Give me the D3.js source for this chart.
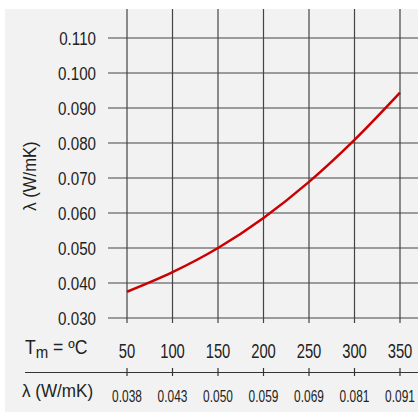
<!DOCTYPE html>
<html>
<head>
<meta charset="utf-8">
<script src="https://cdn.jsdelivr.net/npm/d3@7"></script>
<style>
  body { margin: 0; background: #fff; }
  text { font-family: "Liberation Sans", Arial, sans-serif; fill: #222; }
</style>
</head>
<body>
<script>
const temps = [50, 100, 150, 200, 250, 300, 350];
const lambdaCurve = [0.0375, 0.0431, 0.0500, 0.0586, 0.0689, 0.0809, 0.0944];
const lambdaTable = ['0.038', '0.043', '0.050', '0.059', '0.069', '0.081', '0.091'];
const yTicks = [0.030, 0.040, 0.050, 0.060, 0.070, 0.080, 0.090, 0.100, 0.110];

const width = 418;
const height = 412;

const svg = d3.select('body')
  .append('svg')
  .attr('width', width)
  .attr('height', height);

// panel background
svg.append('rect')
  .attr('x', 5)
  .attr('y', 9)
  .attr('width', width - 5)
  .attr('height', height - 9)
  .attr('fill', '#f2f2f2');

const x = d3.scaleLinear().domain([50, 350]).range([127, 400]);
const y = d3.scaleLinear().domain([0.03, 0.11]).range([318, 38]);

// the original uses a narrow face, so squeeze the text horizontally
const at = (px, py, sx, extra = '') => `translate(${px},${py}) ${extra} scale(${sx},1)`;

// horizontal grid
svg.selectAll('line.h')
  .data(yTicks)
  .enter()
  .append('line')
  .attr('class', 'h')
  .attr('x1', 108)
  .attr('x2', width)
  .attr('y1', d => y(d))
  .attr('y2', d => y(d))
  .attr('stroke', '#444')
  .attr('stroke-width', 1.2);

// vertical grid
svg.selectAll('line.v')
  .data(temps)
  .enter()
  .append('line')
  .attr('class', 'v')
  .attr('x1', d => x(d))
  .attr('x2', d => x(d))
  .attr('y1', 9)
  .attr('y2', 323)
  .attr('stroke', '#444')
  .attr('stroke-width', 1.2);

// y tick labels
svg.selectAll('text.ytick')
  .data(yTicks)
  .enter()
  .append('text')
  .attr('class', 'ytick')
  .attr('transform', d => at(96, y(d), 0.82))
  .attr('dy', '0.36em')
  .attr('text-anchor', 'end')
  .style('font-size', '18.5px')
  .text(d => d.toFixed(3));

// y title
svg.append('text')
  .attr('transform', at(36, 176, 0.9, 'rotate(-90)'))
  .attr('text-anchor', 'middle')
  .style('font-size', '18.5px')
  .text('λ (W/mK)');

// temperature row
const tm = svg.append('text')
  .attr('transform', at(25, 354, 0.88))
  .style('font-size', '20px');
tm.append('tspan').text('T');
tm.append('tspan').attr('dy', 4).style('font-size', '17px').text('m');
tm.append('tspan').attr('dy', -4).text(' = ºC');

svg.selectAll('text.xtick')
  .data(temps)
  .enter()
  .append('text')
  .attr('class', 'xtick')
  .attr('transform', d => at(x(d), 357.5, 0.74))
  .attr('text-anchor', 'middle')
  .style('font-size', '20px')
  .text(d => d);

// separator line with ticks
svg.append('line')
  .attr('x1', 25)
  .attr('x2', width)
  .attr('y1', 372.5)
  .attr('y2', 372.5)
  .attr('stroke', '#333')
  .attr('stroke-width', 1.2);

svg.selectAll('line.sep')
  .data(temps)
  .enter()
  .append('line')
  .attr('class', 'sep')
  .attr('x1', d => x(d))
  .attr('x2', d => x(d))
  .attr('y1', 368)
  .attr('y2', 376)
  .attr('stroke', '#333')
  .attr('stroke-width', 1.2);

// lambda row
svg.append('text')
  .attr('transform', at(22, 397, 0.9))
  .style('font-size', '19px')
  .text('λ (W/mK)');

svg.selectAll('text.lam')
  .data(temps)
  .enter()
  .append('text')
  .attr('class', 'lam')
  .attr('transform', d => at(x(d), 401.5, 0.7))
  .attr('text-anchor', 'middle')
  .style('font-size', '17px')
  .text((d, i) => lambdaTable[i]);

// curve
const line = d3.line()
  .x(d => x(d[0]))
  .y(d => y(d[1]))
  .curve(d3.curveMonotoneX);

svg.append('path')
  .datum(temps.map((t, i) => [t, lambdaCurve[i]]))
  .attr('d', line)
  .attr('fill', 'none')
  .attr('stroke', '#cc0000')
  .attr('stroke-width', 2.5);
</script>
</body>
</html>
